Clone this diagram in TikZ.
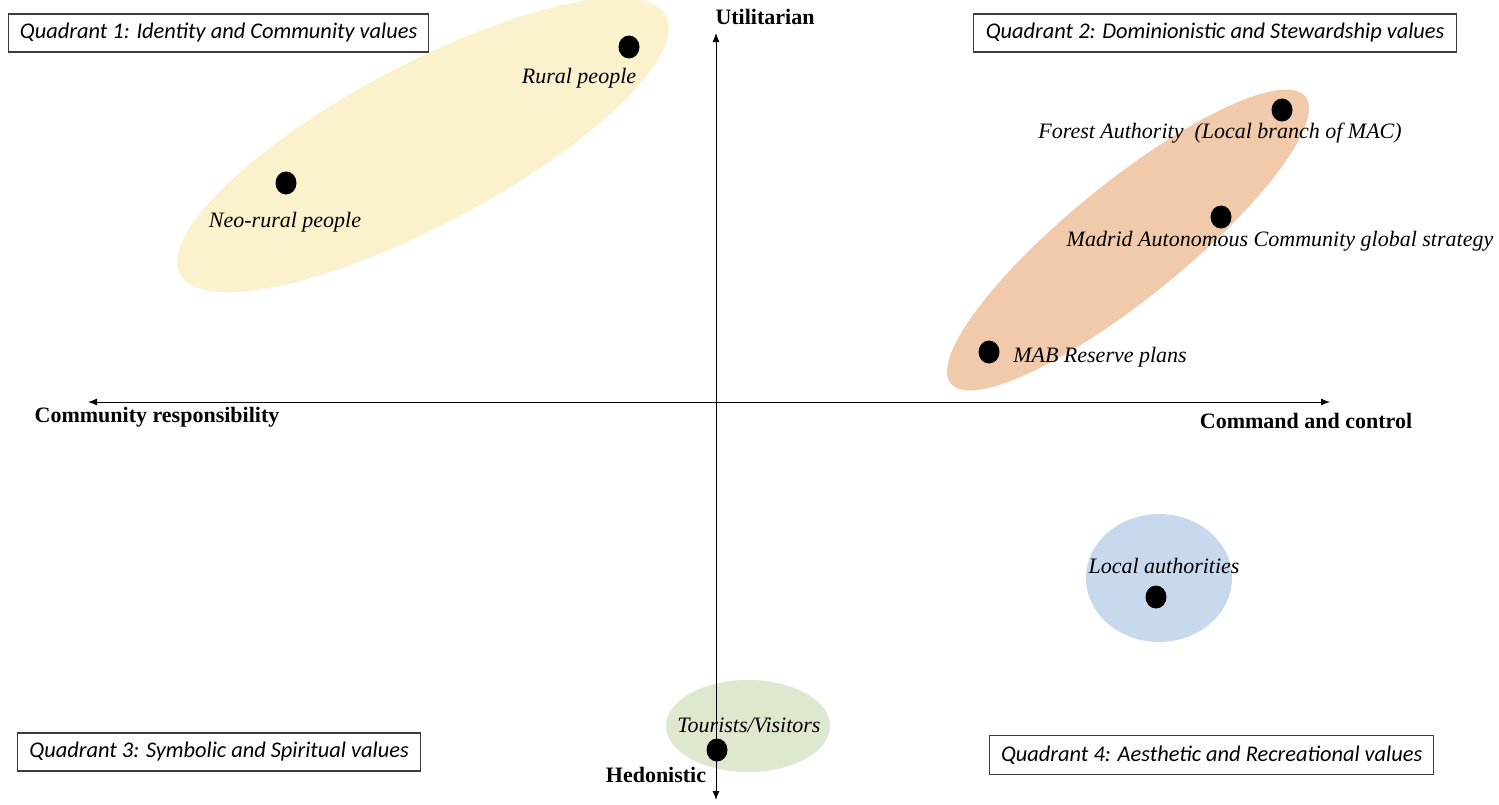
\documentclass[tikz,border=0pt]{standalone}
\usepackage{fontspec}
\setmainfont{Liberation Serif}
\newfontfamily\qfont{Carlito}
\usetikzlibrary{arrows.meta,shapes.geometric}
\definecolor{ylw}{RGB}{251,241,204}
\definecolor{org}{RGB}{241,202,172}
\definecolor{blu}{RGB}{200,217,238}
\definecolor{grn}{RGB}{221,232,206}
\definecolor{bordergray}{RGB}{60,60,60}
\tikzset{
  qbox/.style={draw=bordergray,line width=1.3pt,fill=white,inner sep=0pt,font=\qfont\itshape\fontsize{22.4}{26}\selectfont,anchor=west},
  dot/.style={ellipse,fill=black,inner sep=0pt,minimum width=21pt,minimum height=23pt},
  lbl/.style={font=\itshape\fontsize{22}{25}\selectfont,inner sep=0pt},
  axl/.style={font=\bfseries\fontsize{22}{25}\selectfont,inner sep=0pt},
  axis/.style={line width=1pt,-{Latex[length=9pt,width=7pt]}},
}
\begin{document}
\begin{tikzpicture}[x=1pt,y=-1pt]
\useasboundingbox (0,0) rectangle (1499,804);
% ellipses
\fill[ylw,rotate around={28:(423,145)}] (423,145) ellipse [x radius=275,y radius=80];
\fill[org,rotate around={39:(1128,240)}] (1128,240) ellipse [x radius=228,y radius=58];
\fill[blu] (1159,578) ellipse [x radius=73,y radius=64];
\fill[grn] (748,726) ellipse [x radius=82,y radius=46];
% axes
\coordinate (vt) at (716,33);
\coordinate (vb) at (716,800);
\coordinate (hl) at (88,402);
\coordinate (hr) at (1330,402);
\coordinate (c) at (716,402);
\draw[axis] (c) -- (vt);
\draw[axis] (c) -- (vb);
\draw[axis] (c) -- (hl);
\draw[axis] (c) -- (hr);
\node[axl] (util) at (765,17) {Utilitarian};
\node[axl] (comr) at (157,417) {Community responsibility};
\node[axl] (cmd) at (1306,421) {Command and control};
\node[axl] (hed) at (656,775) {Hedonistic};
% quadrant boxes
\node[qbox,minimum width=420pt,minimum height=38pt] (q1) at (8,33) {Quadrant 1: Identity and Community values};
\node[qbox,minimum width=483pt,minimum height=38pt] (q2) at (973,33) {Quadrant 2: Dominionistic and Stewardship values};
\node[qbox,minimum width=403pt,minimum height=38pt] (q3) at (17,752) {Quadrant 3: Symbolic and Spiritual values};
\node[qbox,minimum width=444pt,minimum height=39pt] (q4) at (989,755) {Quadrant 4: Aesthetic and Recreational values};
% dots
\node[dot] (rural) at (629,47) {};
\node[dot] (neo) at (286,183) {};
\node[dot] (forest) at (1282,110) {};
\node[dot] (madrid) at (1221,217) {};
\node[dot] (mab) at (989,352) {};
\node[dot] (local) at (1156,597) {};
\node[dot] (tour) at (717,750) {};
% labels
\node[lbl] (lrural) at (579,78) {Rural people};
\node[lbl] (lneo) at (285,222) {Neo-rural people};
\node[lbl] (lforest) at (1220,133) {Forest Authority \ (Local branch of MAC)};
\node[lbl] (lmadrid) at (1280,241) {Madrid Autonomous Community global strategy};
\node[lbl] (lmab) at (1100,357) {MAB Reserve plans};
\node[lbl] (llocal) at (1164,566) {Local authorities};
\node[lbl] (ltour) at (749,725) {Tourists/Visitors};
\end{tikzpicture}
\end{document}
